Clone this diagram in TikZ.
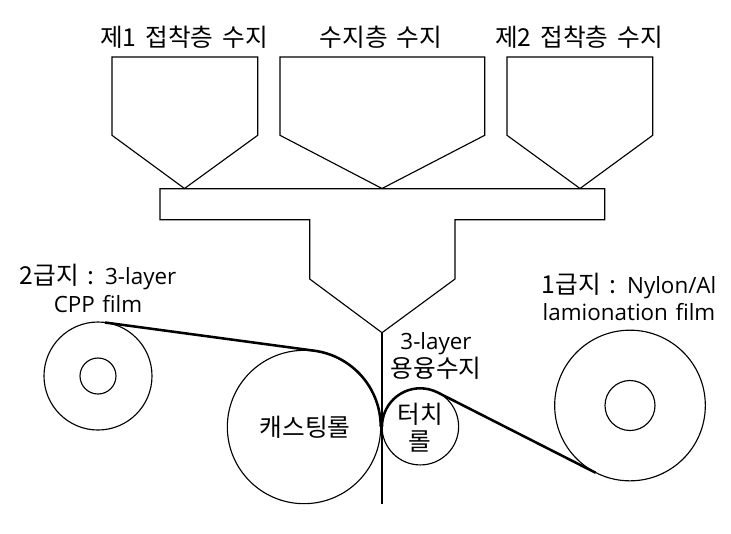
\documentclass[tikz,border=0pt]{standalone}
\usepackage{fontspec}
\setmainfont[WordSpace=1.6]{Noto Sans CJK KR}
\newfontfamily\latf[WordSpace=1.3]{Open Sans}
\newcommand{\lat}[1]{{\latf\fontsize{16.8pt}{20pt}\selectfont #1}}
\tikzset{
 ln/.style={draw=black,line width=0.85pt,line join=miter},
 stem/.style={draw=black,line width=1.5pt},
 filmline/.style={draw=black,line width=1.9pt,line join=round},
 lbl/.style={font=\fontsize{18.5pt}{20.5pt}\selectfont,align=center,inner sep=0pt,text=black}
}
\begin{document}
\begin{tikzpicture}[x=0.75pt,y=-0.75pt]
\useasboundingbox (0,0) rectangle (731,533);
\fill[white] (0,0) rectangle (731,533);
\draw[ln] (112,57) -- (257.7,57) -- (257.7,135.3) -- (184.5,188.5) -- (112,135.3) -- cycle;
\draw[ln] (280,57) -- (484.7,57) -- (484.7,135.3) -- (382,188.5) -- (280,135.3) -- cycle;
\draw[ln] (507,57) -- (652.7,57) -- (652.7,135.3) -- (580,188.5) -- (507,135.3) -- cycle;
\draw[ln] (160,188.7) -- (604.7,188.7) -- (604.7,219.7) -- (455,219.7) -- (455,279) -- (382,332.7) -- (309.7,279) -- (309.7,219.7) -- (160,219.7) -- cycle;
\coordinate (top) at (382,332.7);
\coordinate (bot) at (382,504);
\draw[stem] (top) -- (bot);
\node[circle,ln,minimum size=115pt,inner sep=0pt] (cast) at (304,427) {};
\node[circle,ln,minimum size=57.5pt,inner sep=0pt] (touch) at (420.3,426.6) {};
\node[circle,ln,minimum size=81pt,inner sep=0pt] (l) at (98,376) {};
\node[circle,ln,minimum size=27pt,inner sep=0pt] (li) at (98,376) {};
\node[circle,ln,minimum size=113pt,inner sep=0pt] (r) at (630,405.5) {};
\node[circle,ln,minimum size=37.5pt,inner sep=0pt] (ri) at (630,405.5) {};
\draw[filmline] (105,322.5) -- (314.3,350.7) arc[start angle=-82.3,end angle=0,radius=76.7];
\draw[filmline] (382,426.6) arc[start angle=-180,end angle=-63,radius=38.3] -- (595.7,472.8);
\node[lbl] (a) at (184,37) {제1 접착층 수지};
\node[lbl] (b) at (381,37) {수지층 수지};
\node[lbl] (c) at (579,37) {제2 접착층 수지};
\node[lbl] (d) at (98,288.5) {2급지 : \lat{3-layer}\\\lat{CPP film}};
\node[lbl] (e) at (629,297) {1급지 : \lat{Nylon/Al}\\\lat{lamionation film}};
\node[lbl] (f) at (436,356) {\lat{3-layer}\\용융수지};
\node[lbl] (g) at (305,427) {캐스팅롤};
\node[lbl] (h) at (420,427.5) {터치\\롤};
\end{tikzpicture}
\end{document}
